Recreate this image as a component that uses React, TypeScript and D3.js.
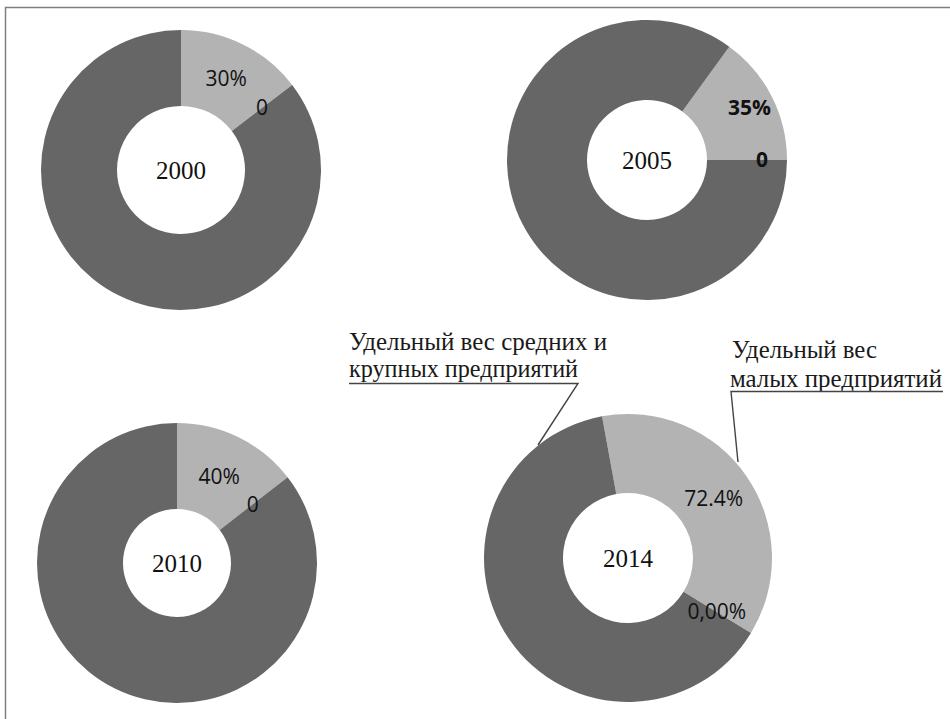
import * as d3 from "d3";

// drawn share of each ring (small firms, zero slice, medium+large firms), in %
const years = ["2000", "2005", "2010", "2014"];
const smallShare = [14.6, 15.0, 14.5, 36.6];
const zeroShare = [0, 0, 0, 0];
const largeShare = [85.4, 85.0, 85.5, 63.4];
const pctLabels = ["30%", "35%", "40%", "72.4%"];
const zeroLabels = ["0", "0", "0", "0,00%"];
const boldLabels = [false, true, false, false];

const legendLarge = ["Удельный вес средних и", "крупных предприятий"];
const legendSmall = ["Удельный вес", "малых предприятий"];

// layout of the four rings
const rings = [
  { cx: 181, cy: 170, r: 140, r0: 64, start: 0, lr: 102 },
  { cx: 647, cy: 160, r: 140, r0: 60, start: 36, lr: 115 },
  { cx: 177, cy: 563, r: 140, r0: 54, start: 0, lr: 96 },
  { cx: 628, cy: 558, r: 144, r0: 65, start: -10.4, lr: 104 },
];

const colors = ["#b3b3b3", "#b3b3b3", "#666666"];

const App = () => {
  const rad = Math.PI / 180;

  return (
    <svg width={950} height={719} style={{ position: "absolute", left: 0, top: 0 }}>
      <rect x={0} y={0} width={950} height={719} fill="#fff" />
      <rect x={5.5} y={7.5} width={960} height={730} fill="none" stroke="#7f7f7f" strokeWidth={1.5} />
      {years.map((yr, i) => {
        const g = rings[i];
        const vals = [smallShare[i], zeroShare[i], largeShare[i]];
        const pie = d3
          .pie<number>()
          .sort(null)
          .value((d) => d)
          .startAngle(g.start * rad)
          .endAngle(g.start * rad + 2 * Math.PI);
        const arcs = pie(vals);
        const arc = d3.arc<d3.PieArcDatum<number>>().innerRadius(g.r0).outerRadius(g.r);
        const labelArc = d3.arc<d3.PieArcDatum<number>>().innerRadius(g.lr).outerRadius(g.lr);
        const [px, py] = labelArc.centroid(arcs[0]);
        const [zx, zy] = labelArc.centroid(arcs[1]);
        const font = {
          fontFamily: "'Open Sans', sans-serif",
          fontSize: 21,
          fontWeight: boldLabels[i] ? 700 : 400,
          fill: "#111",
        };
        return (
          <g key={yr} transform={`translate(${g.cx},${g.cy})`}>
            {arcs.map((a, j) => (
              <path key={j} d={arc(a) ?? ""} fill={colors[j]} />
            ))}
            <text x={px} y={py} dy="0.35em" textAnchor="middle" {...font}>
              {pctLabels[i]}
            </text>
            <text x={zx} y={zy} dy="0.35em" textAnchor="middle" {...font}>
              {zeroLabels[i]}
            </text>
            <text
              x={0}
              y={0}
              dy="0.35em"
              textAnchor="middle"
              fontFamily="'Liberation Serif', serif"
              fontSize={25}
              fill="#111"
            >
              {yr}
            </text>
          </g>
        );
      })}
      {/* callouts */}
      <g fontFamily="'Liberation Serif', serif" fontSize={25} fill="#1a1a1a">
        <text x={349} y={350} textLength={258} lengthAdjust="spacingAndGlyphs">
          {legendLarge[0]}
        </text>
        <text x={349} y={377} textLength={229} lengthAdjust="spacingAndGlyphs">
          {legendLarge[1]}
        </text>
        <text x={732} y={358} textLength={145} lengthAdjust="spacingAndGlyphs">
          {legendSmall[0]}
        </text>
        <text x={730} y={387} textLength={212} lengthAdjust="spacingAndGlyphs">
          {legendSmall[1]}
        </text>
      </g>
      <g stroke="#444" strokeWidth={1.4} fill="none">
        <polyline points="349,383.5 578,383.5 538,445" />
        <polyline points="943,391.5 731,391.5 738,462" />
      </g>
    </svg>
  );
};

export default App;
